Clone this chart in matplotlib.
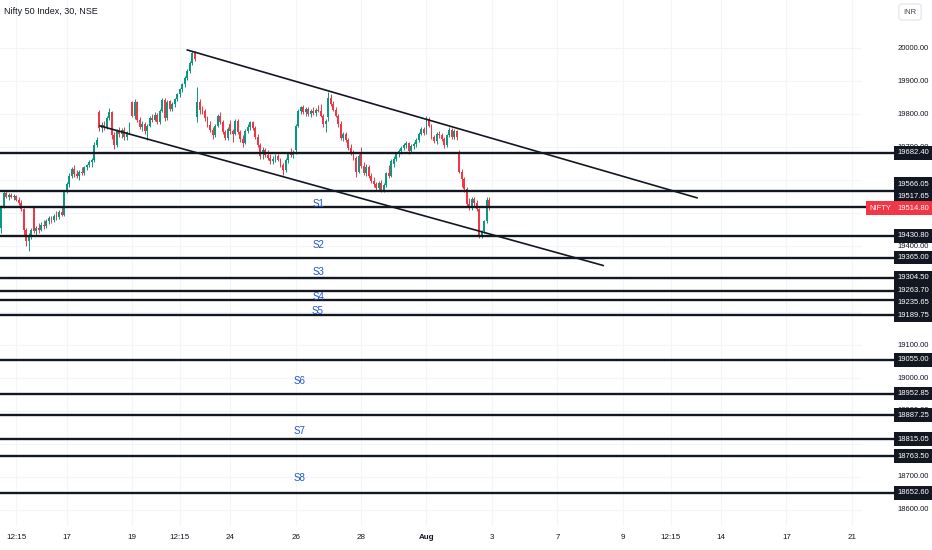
import numpy as np
import matplotlib.pyplot as plt
from matplotlib.transforms import blended_transform_factory

plt.rcParams['font.family'] = ['Liberation Sans Narrow', 'Liberation Sans', 'DejaVu Sans']

# 30 min candles, 13 Jul -> 2 Aug 2023 (13 bars per session)
opens = [19455, 19520, 19560, 19550, 19555, 19548, 19552, 19540, 19530, 19512, 19448, 19415, 19430,
         19515, 19445, 19455, 19448, 19465, 19460, 19476, 19484, 19478, 19492, 19488, 19502, 19495,
         19564, 19588, 19612, 19632, 19618, 19612, 19625, 19620, 19638, 19645, 19656, 19662, 19705,
         19805, 19758, 19768, 19760, 19788, 19805, 19735, 19705, 19748, 19738, 19752, 19730, 19745,
         19835, 19795, 19835, 19782, 19762, 19770, 19748, 19765, 19788, 19782, 19798, 19775, 19810,
         19843, 19788, 19838, 19815, 19830, 19845, 19860, 19875, 19890, 19910, 19930, 19955, 19984,
         19790, 19835, 19812, 19808, 19788, 19768, 19752, 19735, 19765, 19795, 19775, 19745, 19728,
         19770, 19748, 19740, 19778, 19745, 19725, 19712, 19750, 19760, 19775, 19758, 19730, 19705,
         19680, 19692, 19675, 19668, 19658, 19665, 19672, 19662, 19645, 19630, 19660, 19680, 19675,
         19690, 19765, 19808, 19820, 19805, 19815, 19800, 19810, 19802, 19812, 19808, 19795, 19770,
         19790, 19850, 19830, 19812, 19795, 19770, 19728, 19740, 19722, 19698, 19682, 19668, 19625,
         19685, 19642, 19622, 19640, 19612, 19598, 19588, 19575, 19592, 19570, 19585, 19620, 19612,
         19650, 19665, 19680, 19688, 19698, 19706, 19712, 19688, 19702, 19708, 19722, 19740, 19755,
         19745, 19785, 19765, 19730, 19718, 19740, 19735, 19725, 19705, 19735, 19752, 19730, 19748,
         19682, 19625, 19602, 19572, 19528, 19516, 19542, 19530, 19512, 19432, 19445, 19475, 19540]
highs = [19525, 19567, 19567, 19560, 19562, 19558, 19556, 19548, 19540, 19515, 19455, 19440, 19455,
         19520, 19462, 19470, 19472, 19478, 19482, 19490, 19492, 19498, 19505, 19510, 19520, 19570,
         19595, 19620, 19640, 19645, 19630, 19630, 19640, 19642, 19650, 19662, 19668, 19715, 19731,
         19812, 19775, 19780, 19795, 19819, 19810, 19745, 19755, 19760, 19758, 19760, 19750, 19775,
         19840, 19845, 19838, 19790, 19778, 19775, 19770, 19795, 19800, 19805, 19802, 19815, 19850,
         19848, 19842, 19842, 19835, 19850, 19865, 19880, 19895, 19915, 19935, 19960, 19990, 19991,
         19882, 19845, 19825, 19815, 19795, 19778, 19760, 19770, 19800, 19805, 19782, 19752, 19762,
         19782, 19755, 19785, 19785, 19752, 19735, 19755, 19770, 19780, 19780, 19765, 19738, 19712,
         19700, 19698, 19690, 19680, 19672, 19678, 19680, 19668, 19652, 19668, 19685, 19698, 19692,
         19770, 19815, 19825, 19828, 19820, 19822, 19815, 19822, 19818, 19828, 19830, 19800, 19785,
         19867, 19862, 19840, 19822, 19800, 19778, 19745, 19745, 19728, 19710, 19690, 19672, 19680,
         19700, 19655, 19648, 19645, 19620, 19610, 19595, 19598, 19600, 19590, 19625, 19645, 19665,
         19672, 19685, 19695, 19702, 19712, 19718, 19716, 19708, 19715, 19728, 19745, 19760, 19762,
         19795, 19792, 19770, 19735, 19745, 19750, 19742, 19730, 19740, 19760, 19758, 19755, 19752,
         19690, 19632, 19610, 19578, 19545, 19548, 19550, 19540, 19515, 19450, 19480, 19548, 19550]
lows = [19440, 19515, 19545, 19540, 19545, 19538, 19535, 19525, 19505, 19430, 19400, 19385, 19420,
        19440, 19433, 19440, 19444, 19452, 19455, 19466, 19470, 19472, 19480, 19482, 19490, 19490,
        19560, 19580, 19605, 19610, 19605, 19600, 19615, 19615, 19630, 19638, 19640, 19655, 19700,
        19750, 19745, 19752, 19755, 19782, 19725, 19695, 19700, 19730, 19728, 19722, 19722, 19740,
        19790, 19785, 19775, 19755, 19748, 19740, 19722, 19760, 19775, 19778, 19770, 19770, 19805,
        19780, 19782, 19810, 19808, 19822, 19838, 19852, 19868, 19882, 19902, 19925, 19950, 19962,
        19775, 19800, 19800, 19780, 19760, 19745, 19725, 19730, 19760, 19770, 19740, 19720, 19722,
        19740, 19715, 19735, 19740, 19715, 19700, 19708, 19742, 19752, 19752, 19725, 19700, 19665,
        19665, 19670, 19662, 19650, 19648, 19655, 19658, 19640, 19616, 19625, 19652, 19670, 19668,
        19680, 19760, 19800, 19800, 19795, 19795, 19790, 19798, 19795, 19805, 19790, 19760, 19745,
        19780, 19825, 19808, 19790, 19762, 19720, 19718, 19715, 19690, 19675, 19660, 19610, 19620,
        19635, 19615, 19612, 19605, 19590, 19580, 19568, 19570, 19565, 19563, 19580, 19605, 19608,
        19640, 19658, 19670, 19680, 19690, 19698, 19680, 19682, 19695, 19700, 19715, 19735, 19735,
        19740, 19760, 19725, 19712, 19710, 19728, 19718, 19698, 19700, 19730, 19725, 19725, 19722,
        19620, 19580, 19565, 19520, 19510, 19510, 19522, 19505, 19423, 19425, 19440, 19470, 19508]
closes = [19520, 19560, 19550, 19555, 19548, 19552, 19540, 19530, 19512, 19448, 19415, 19430, 19448,
          19445, 19455, 19448, 19465, 19460, 19476, 19484, 19478, 19492, 19488, 19502, 19495, 19564,
          19588, 19612, 19632, 19618, 19612, 19625, 19620, 19638, 19645, 19656, 19662, 19705, 19722,
          19758, 19768, 19760, 19788, 19805, 19735, 19705, 19748, 19738, 19752, 19730, 19745, 19768,
          19795, 19835, 19782, 19762, 19770, 19748, 19765, 19788, 19782, 19798, 19775, 19810, 19843,
          19788, 19835, 19815, 19830, 19845, 19860, 19875, 19890, 19910, 19930, 19955, 19984, 19968,
          19835, 19812, 19808, 19788, 19768, 19752, 19735, 19765, 19795, 19775, 19745, 19728, 19755,
          19748, 19740, 19778, 19745, 19725, 19712, 19750, 19760, 19775, 19758, 19730, 19705, 19672,
          19692, 19675, 19668, 19658, 19665, 19672, 19662, 19645, 19630, 19660, 19680, 19675, 19685,
          19765, 19808, 19820, 19805, 19815, 19800, 19810, 19802, 19812, 19808, 19795, 19770, 19778,
          19850, 19830, 19812, 19795, 19770, 19728, 19740, 19722, 19698, 19682, 19668, 19625, 19672,
          19642, 19622, 19640, 19612, 19598, 19588, 19575, 19592, 19570, 19585, 19620, 19612, 19658,
          19665, 19680, 19688, 19698, 19706, 19712, 19688, 19702, 19708, 19722, 19740, 19755, 19742,
          19785, 19765, 19730, 19718, 19740, 19735, 19725, 19705, 19735, 19752, 19730, 19748, 19730,
          19625, 19602, 19572, 19528, 19516, 19542, 19530, 19512, 19432, 19445, 19475, 19540, 19514.80]

current_price = 19514.80

# horizontal support / resistance levels
levels = [19682.40, 19566.05, 19517.65, 19430.80, 19365.00, 19304.50, 19263.70, 19235.65,
          19189.75, 19055.00, 18952.85, 18887.25, 18815.05, 18763.50, 18652.60]

# channel trend lines (bar index, price)
upper_bars = [74, 276.5]
upper_prices = [19994, 19546]
lower_bars = [39.3, 239.2]
lower_prices = [19764, 19341]

# S1..S8 annotations (bar index, price)
s_names = ['S1', 'S2', 'S3', 'S4', 'S5', 'S6', 'S7', 'S8']
s_bars = [126, 126, 126, 126.3, 125.6, 118.4, 118.4, 118.4]
s_prices = [19527, 19403, 19321, 19245, 19203, 18991, 18839, 18697]

# time axis
tick_bars = [6, 26, 52, 71, 91, 117, 143, 169, 195, 221, 247, 266, 286, 312, 338]
tick_labels = ['12:15', '17', '19', '12:15', '24', '26', '28', 'Aug', '3', '7', '9', '12:15', '14', '17', '21']
grid_prices = np.arange(18600, 20001, 100)

UP = '#089981'
DOWN = '#f23645'
INK = '#131722'
GRID = '#f3f5fa'

W, H = 932, 550
plot_w, plot_h, plot_bottom = 862, 526, 24
ymin, ymax = 18551.5, 20145.5

fig = plt.figure(figsize=(W / 100, H / 100), dpi=100)
ax = fig.add_axes([0, plot_bottom / H, plot_w / W, plot_h / H])
trans = blended_transform_factory(ax.transAxes, ax.transData)

for p in grid_prices:
    ax.axhline(p, color=GRID, lw=0.8, zorder=0)
for b in tick_bars:
    ax.axvline(b, color=GRID, lw=0.8, zorder=0)

o = np.array(opens, dtype=float)
c = np.array(closes, dtype=float)
hi = np.array(highs, dtype=float)
lo = np.array(lows, dtype=float)
x = np.arange(len(c))
col = np.where(c >= o, UP, DOWN)
ax.vlines(x, lo, hi, colors=col, lw=0.7, zorder=3)
ax.bar(x, np.maximum(np.abs(c - o), 2), bottom=np.minimum(o, c), width=0.75,
       color=col, lw=0, zorder=3)

# levels run into the price scale up to their label
box_x = 913.5 / plot_w
for lv in levels:
    ax.plot([0, 898 / plot_w], [lv, lv], transform=trans, color=INK, lw=1.7,
            clip_on=False, zorder=4, solid_capstyle='butt')

ax.plot(upper_bars, upper_prices, color=INK, lw=1.2, zorder=5)
ax.plot(lower_bars, lower_prices, color=INK, lw=1.2, zorder=5)

for name, b, p in zip(s_names, s_bars, s_prices):
    ax.text(b, p, name, color='#1f55d6', fontsize=7, ha='center', va='center', zorder=6)

# price scale
for p in grid_prices:
    ax.text(box_x, p, f'{p:.2f}', transform=trans, ha='center', va='center',
            fontsize=5.5, color=INK, zorder=6, clip_on=False)

# push level labels apart like the price scale does
gap = 12 / (plot_h / (ymax - ymin))
label_pos = {}
prev = current_price
for lv in sorted(l for l in levels if l >= current_price):
    prev = max(lv, prev + gap)
    label_pos[lv] = prev
prev = current_price
for lv in sorted((l for l in levels if l < current_price), reverse=True):
    prev = min(lv, prev - gap)
    label_pos[lv] = prev

box = dict(boxstyle='square,pad=0.45', fc=INK, ec='none')
for lv in levels:
    ax.text(box_x, label_pos[lv], f'{lv:.2f}', transform=trans, ha='center', va='center',
            fontsize=5.5, color='white', zorder=8, clip_on=False, bbox=box)

red_box = dict(boxstyle='square,pad=0.45', fc=DOWN, ec='none')
ax.text(box_x, current_price, f'{current_price:.2f}', transform=trans, ha='center',
        va='center', fontsize=5.5, color='white', zorder=9, clip_on=False, bbox=red_box)
ax.text(891 / plot_w, current_price, 'NIFTY', transform=trans, ha='right', va='center',
        fontsize=5.5, color='white', zorder=9, clip_on=False, bbox=red_box)

ax.set_xticks(tick_bars)
ax.set_xticklabels(tick_labels, fontsize=5.8, color=INK)
for t in ax.get_xticklabels():
    if t.get_text() == 'Aug':
        t.set_fontweight('bold')
ax.tick_params(axis='x', length=0, pad=6)
ax.set_yticks([])
for s in ax.spines.values():
    s.set_visible(False)

ax.set_xlim(-0.44, 342.05)
ax.set_ylim(ymin, ymax)

fig.text(4 / W, 1 - 12 / H, 'Nifty 50 Index, 30, NSE', fontsize=6.5, color=INK,
         va='center', ha='left')
fig.text(910 / W, 1 - 12 / H, 'INR', fontsize=5.5, color='#434651', ha='center', va='center',
         bbox=dict(boxstyle='round,pad=0.6,rounding_size=0.4', fc='white', ec='#e0e3eb', lw=0.8))

fig.savefig('out.png', dpi=100)
